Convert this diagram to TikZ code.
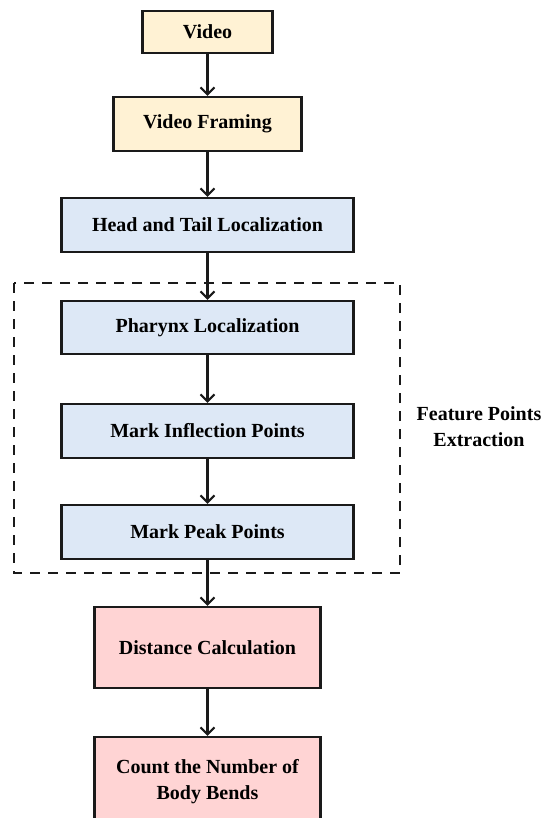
\documentclass[tikz,border=0pt]{standalone}
\usepackage{fontspec}
\setmainfont{Liberation Serif}
\usetikzlibrary{arrows.meta}
\definecolor{yel}{HTML}{FFF2D4}
\definecolor{blu}{HTML}{DDE8F6}
\definecolor{pnk}{HTML}{FFD4D4}
\definecolor{edge}{HTML}{1A1A1A}
\tikzset{
  box/.style={draw=edge, line width=2.2pt, rectangle, align=center,
    font=\bfseries\fontsize{20}{26}\selectfont, inner sep=0pt},
  ybox/.style={box, fill=yel},
  bbox/.style={box, fill=blu, minimum width=292pt, minimum height=54pt},
  pbox/.style={box, fill=pnk, minimum width=226pt},
  conn/.style={draw=edge, line width=2.1pt, -{Straight Barb[length=7pt,width=14pt]}},
}
\begin{document}
\begin{tikzpicture}[x=1pt,y=-1pt]
\clip (0,0) rectangle (544,818);
\fill[white] (0,0) rectangle (544,818);
\draw[edge, line width=1.6pt, dash pattern=on 10pt off 8pt] (14,283) rectangle (400,573);
\node[ybox, minimum width=130pt, minimum height=42pt] (video) at (207.5,32) {Video};
\node[ybox, minimum width=188pt, minimum height=54pt] (framing) at (207.5,124) {Video Framing};
\node[bbox] (head) at (207.5,225) {Head and Tail Localization};
\node[bbox, minimum height=53pt] (phar) at (207.5,327.5) {Pharynx Localization};
\node[bbox] (infl) at (207.5,431) {Mark Inflection Points};
\node[bbox] (peak) at (207.5,532) {Mark Peak Points};
\node[pbox, minimum height=81pt] (dist) at (207.5,647.5) {Distance Calculation};
\node[pbox, minimum height=89pt] (count) at (207.5,781.5) {Count the Number of\\Body Bends};
\node[align=center, font=\bfseries\fontsize{20}{26}\selectfont] (fpe) at (479,427) {Feature Points\\Extraction};
\draw[conn] (video) -- (framing);
\draw[conn] (framing) -- (head);
\draw[conn] (head) -- (phar);
\draw[conn] (phar) -- (infl);
\draw[conn] (infl) -- (peak);
\draw[conn] (peak) -- (dist);
\draw[conn] (dist) -- (count);
\end{tikzpicture}
\end{document}
